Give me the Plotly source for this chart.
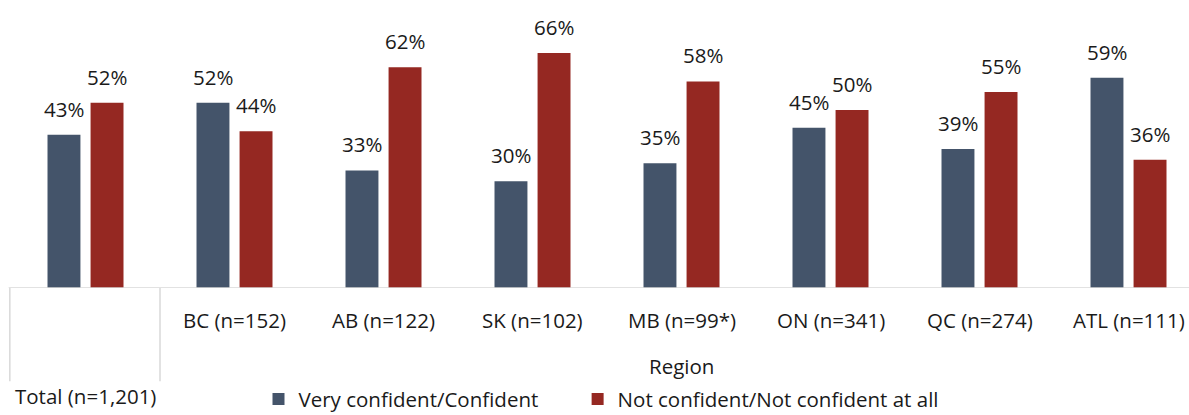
import plotly.graph_objects as go

categories = ["Total (n=1,201)", "BC (n=152)", "AB (n=122)", "SK (n=102)",
              "MB (n=99*)", "ON (n=341)", "QC (n=274)", "ATL (n=111)"]
group_label = "Region"
series_names = ["Very confident/Confident", "Not confident/Not confident at all"]
confident = [43, 52, 33, 30, 35, 45, 39, 59]
not_confident = [52, 44, 62, 66, 58, 50, 55, 36]

colors = ["#44546A", "#952822"]
FONT = "Open Sans"
TXT = "#1a1a1a"
FS = 20.5
xs = list(range(len(categories)))
BW = 0.221
offsets = [-0.255, 0.034]

fig = go.Figure()
annotations = []
for name, vals, col, off, lg in [(series_names[0], confident, colors[0], offsets[0], "legend"),
                                 (series_names[1], not_confident, colors[1], offsets[1], "legend2")]:
    fig.add_trace(go.Bar(
        x=xs, y=vals, name=name, marker=dict(color=col, line=dict(width=0)),
        width=BW, offset=off, cliponaxis=False, legend=lg,
    ))
    for x, v in zip(xs, vals):
        annotations.append(dict(x=x + off + BW / 2, y=v, xref="x", yref="y",
                                text=f"{v}%", showarrow=False, yanchor="bottom",
                                yshift=10, font=dict(family=FONT, size=FS, color=TXT)))

shapes = [
    dict(type="line", xref="paper", yref="y", x0=-0.002, x1=1, y0=0, y1=0,
         line=dict(color="#d9d9d9", width=1.5)),
    dict(type="line", xref="paper", yref="paper", x0=-0.001, x1=-0.001, y0=0, y1=-0.327,
         line=dict(color="#d9d9d9", width=1.5)),
    dict(type="line", xref="x", yref="paper", x0=0.5, x1=0.5, y0=0, y1=-0.327,
         line=dict(color="#d9d9d9", width=1.5)),
]

for i, c in enumerate(categories):
    yy = -0.379 if i == 0 else -0.114
    annotations.append(dict(x=i, y=yy, xref="x", yref="paper", text=c,
                            showarrow=False, yanchor="middle",
                            font=dict(family=FONT, size=FS, color=TXT)))
annotations.append(dict(x=4, y=-0.274, xref="x", yref="paper", text=group_label,
                        showarrow=False, yanchor="middle",
                        font=dict(family=FONT, size=FS, color=TXT)))

legend_common = dict(orientation="h", xanchor="left", y=-0.390, yanchor="middle",
                     font=dict(family=FONT, size=FS, color=TXT),
                     itemwidth=30, bgcolor="rgba(0,0,0,0)")

fig.update_layout(
    width=1189, height=415,
    margin=dict(l=11, r=0, t=2.5, b=126.5, autoexpand=False),
    plot_bgcolor="white", paper_bgcolor="white",
    xaxis=dict(range=[-0.5, 7.406], showticklabels=False, showgrid=False,
               zeroline=False, showline=False, ticks=""),
    yaxis=dict(range=[0, 80], visible=False),
    showlegend=True,
    legend=dict(x=0.2101, **legend_common),
    legend2=dict(x=0.481, **legend_common),
    shapes=shapes, annotations=annotations,
    barmode="overlay",
)

fig.write_html("out.html", config={"displayModeBar": False},
               post_script="document.body.style.margin='0';document.body.style.overflow='hidden';")
